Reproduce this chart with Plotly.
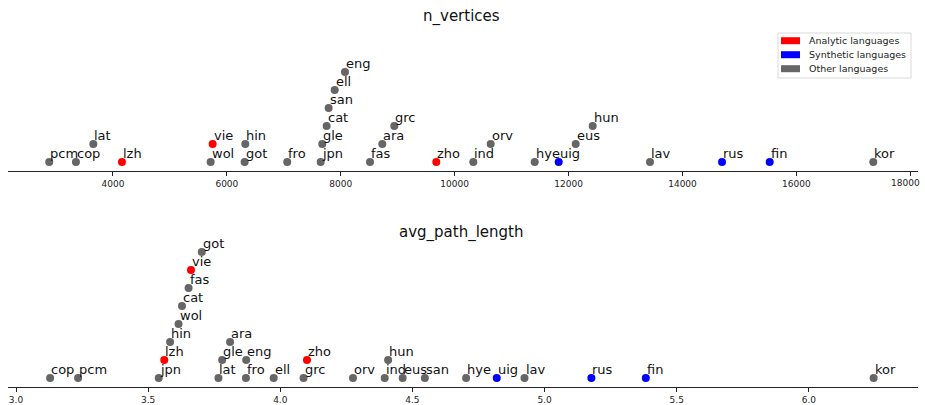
import plotly.graph_objects as go

# ---- data ----
languages = ["pcm", "cop", "lat", "lzh", "wol", "vie", "got", "hin", "fro", "jpn",
             "gle", "cat", "san", "ell", "eng", "fas", "ara", "grc", "zho", "ind",
             "orv", "hye", "uig", "eus", "hun", "lav", "rus", "fin", "kor"]
n_vertices = [2881, 3350, 3655, 4158, 5715, 5750, 6312, 6323, 7060, 7647,
              7675, 7752, 7787, 7893, 8074, 8513, 8729, 8940, 9677, 10327,
              10632, 11405, 11826, 12125, 12423, 13429, 14694, 15531, 17350]
avg_path_length = [3.235, 3.129, 3.766, 3.561, 3.615, 3.662, 3.703, 3.583, 3.870, 3.540,
                   3.780, 3.628, 4.547, 3.975, 3.871, 3.653, 3.810, 4.088, 4.101, 4.395,
                   4.275, 4.703, 4.819, 4.463, 4.408, 4.924, 5.177, 5.383, 6.245]
analytic = ["lzh", "vie", "zho"]
synthetic = ["uig", "rus", "fin"]
group_names = ["Analytic languages", "Synthetic languages", "Other languages"]
group_colors = ["#ff0000", "#0000ff", "#666666"]
top_ticks = [4000, 6000, 8000, 10000, 12000, 14000, 16000, 18000]
bottom_ticks = [3.0, 3.5, 4.0, 4.5, 5.0, 5.5, 6.0]

W, H = 925, 405
FONT = "DejaVu Sans"


def px_x(p):
    return p / W


def px_y(p):
    return 1 - p / H


def color_of(lang):
    if lang in analytic:
        return group_colors[0]
    if lang in synthetic:
        return group_colors[1]
    return group_colors[2]


def stack_levels(values, gap):
    order = sorted(range(len(values)), key=lambda i: values[i])
    levels = [0] * len(values)
    prev, lvl = None, 0
    for i in order:
        if prev is not None and values[i] - values[prev] < gap:
            lvl += 1
        else:
            lvl = 0
        levels[i] = lvl
        prev = i
    return levels


fig = go.Figure()
annotations = []
shapes = []

panels = [
    ("n_vertices", n_vertices, 360, "x", "y", 16.7),
    ("avg_path_length", avg_path_length, 0.048, "x2", "y2", 232),
]
for title, vals, gap, xr, yr, ty in panels:
    lv = stack_levels(vals, gap)
    fig.add_trace(go.Scatter(
        x=vals, y=lv, mode="markers", xaxis=xr, yaxis=yr,
        marker=dict(size=8, color=[color_of(l) for l in languages]),
        hoverinfo="text", text=languages, showlegend=False, cliponaxis=False))
    for l, v, y in zip(languages, vals, lv):
        annotations.append(dict(x=v, y=y, xref=xr, yref=yr, text=l, showarrow=False,
                                xanchor="left", yanchor="bottom", xshift=-1, yshift=-1,
                                font=dict(family=FONT, size=13, color="#111111")))
    annotations.append(dict(x=px_x(461), y=px_y(ty), xref="paper", yref="paper", text=title,
                            showarrow=False, xanchor="center", yanchor="middle",
                            font=dict(family=FONT, size=15, color="#111111")))

# manual legend (matplotlib style)
shapes.append(dict(type="rect", xref="paper", yref="paper",
                   x0=px_x(778), x1=px_x(911), y0=px_y(78), y1=px_y(33),
                   line=dict(color="#d9d9d9", width=1), fillcolor="white"))
for k, (name, col) in enumerate(zip(group_names, group_colors)):
    cy = 40.7 + 14 * k
    shapes.append(dict(type="rect", xref="paper", yref="paper",
                       x0=px_x(781), x1=px_x(800), y0=px_y(cy + 3.5), y1=px_y(cy - 3.5),
                       line=dict(width=0), fillcolor=col))
    annotations.append(dict(x=px_x(807), y=px_y(cy), xref="paper", yref="paper", text=name,
                            showarrow=False, xanchor="left", yanchor="middle",
                            font=dict(family=FONT, size=9.5, color="#222222")))

# the last top tick label sits at the page edge: draw it right-anchored so it stays inside
top_ticktext = [str(t) for t in top_ticks[:-1]] + [""]
annotations.append(dict(x=top_ticks[-1], y=px_y(182.5), xref="x", yref="paper",
                        text=str(top_ticks[-1]), showarrow=False, xanchor="right",
                        yanchor="middle", xshift=12,
                        font=dict(family=FONT, size=9, color="#222222")))

xdom = [px_x(8), px_x(918)]
axis_common = dict(showline=True, linecolor="#222222", linewidth=1, ticks="outside",
                   ticklen=4, tickcolor="#222222", showgrid=False, zeroline=False,
                   tickfont=dict(family=FONT, size=9, color="#222222"))
fig.update_layout(
    width=W, height=H, margin=dict(l=0, r=0, t=0, b=0),
    paper_bgcolor="white", plot_bgcolor="white", showlegend=False,
    xaxis=dict(domain=xdom, anchor="y", range=[2157, 18135], tickvals=top_ticks,
               ticktext=top_ticktext, **axis_common),
    yaxis=dict(domain=[px_y(171), 1], anchor="x", range=[-0.5, 171 / 18 - 0.5], visible=False),
    xaxis2=dict(domain=xdom, anchor="y2", range=[2.9697, 6.4129], tickvals=bottom_ticks,
                tickformat=".1f", **axis_common),
    yaxis2=dict(domain=[px_y(387), px_y(202.5)], anchor="x2",
                range=[-0.5, (387 - 202.5) / 18 - 0.5], visible=False),
    annotations=annotations, shapes=shapes,
)
fig.write_html(
    "out.html",
    post_script=(
        "document.body.style.margin='0';"
        "var st=document.createElement('style');"
        "st.textContent='.modebar-container{display:none !important;}';"
        "document.head.appendChild(st);"
    ),
)
